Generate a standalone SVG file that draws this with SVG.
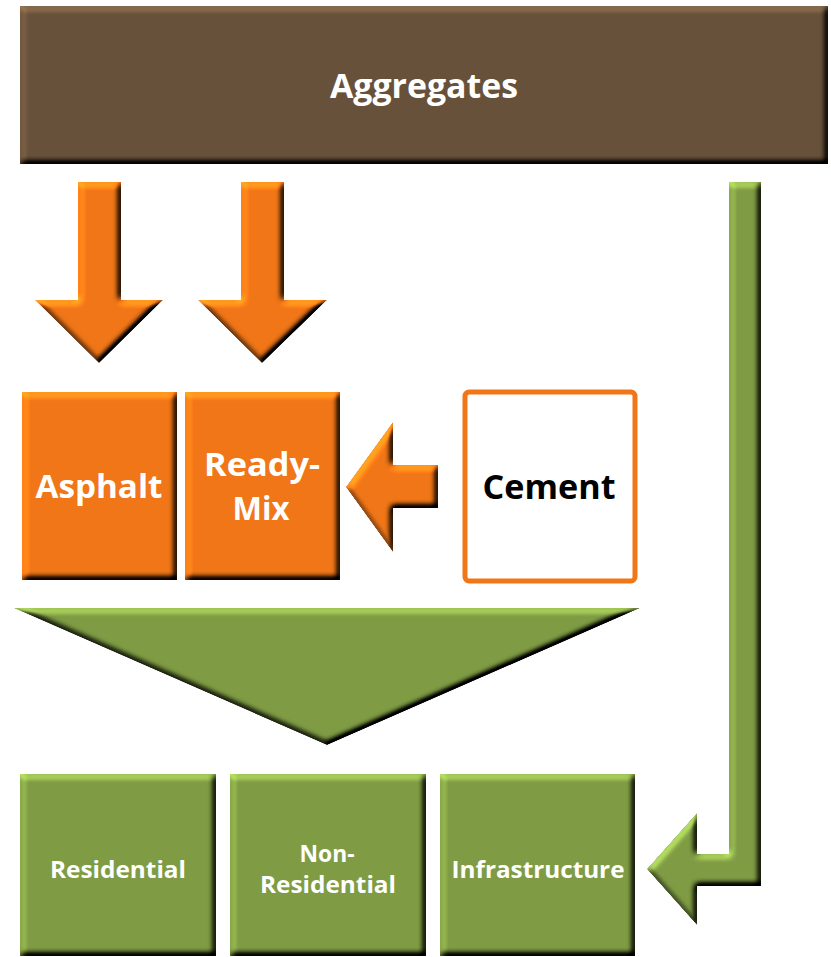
<svg xmlns="http://www.w3.org/2000/svg" width="831" height="957" viewBox="0 0 831 957">
  <defs>
    <!-- soft chamfer: lit from the upper left, shaded on the lower right -->
    <filter id="bevel" x="-5%" y="-5%" width="110%" height="110%" color-interpolation-filters="sRGB">
      <feGaussianBlur in="SourceAlpha" stdDeviation="3" result="blur"/>
      <feDiffuseLighting in="blur" surfaceScale="5" diffuseConstant="1" lighting-color="#ffffff" result="light">
        <feDistantLight azimuth="235" elevation="45"/>
      </feDiffuseLighting>
      <feComposite in="SourceGraphic" in2="light" operator="arithmetic" k1="1.414" k2="0" k3="0" k4="0" result="lit"/>
      <feComposite in="lit" in2="SourceAlpha" operator="in"/>
    </filter>
    <style>
      .brown { fill: #68513A; }
      .orange { fill: #F07617; }
      .green { fill: #7F9C44; }
      .lbl { font-family: "Open Sans", "Liberation Sans", sans-serif; font-weight: 700; text-anchor: middle; }
      .white { fill: #ffffff; }
    </style>
  </defs>

  <!-- source -->
  <g id="aggregates">
    <rect class="brown" x="20" y="6" width="808" height="158" filter="url(#bevel)"/>
    <text class="lbl white" x="424" y="98" font-size="34" textLength="188" lengthAdjust="spacingAndGlyphs">Aggregates</text>
  </g>

  <!-- products -->
  <g id="asphalt">
    <rect class="orange" x="22" y="392" width="155" height="188" filter="url(#bevel)"/>
    <text class="lbl white" x="99" y="498" font-size="32" textLength="127" lengthAdjust="spacingAndGlyphs">Asphalt</text>
  </g>
  <g id="ready-mix">
    <rect class="orange" x="185" y="392" width="155" height="188" filter="url(#bevel)"/>
    <text class="lbl white" x="262" y="476" font-size="32" textLength="116" lengthAdjust="spacingAndGlyphs">Ready-</text>
    <text class="lbl white" x="261" y="520" font-size="32" textLength="57" lengthAdjust="spacingAndGlyphs">Mix</text>
  </g>
  <g id="cement">
    <rect x="465" y="392" width="170" height="189" rx="4" fill="#ffffff" stroke="#F07617" stroke-width="5"/>
    <text class="lbl" x="549" y="499" font-size="34" fill="#000000" textLength="133" lengthAdjust="spacingAndGlyphs">Cement</text>
  </g>

  <!-- end markets -->
  <g id="residential">
    <rect class="green" x="20" y="774" width="196" height="182" filter="url(#bevel)"/>
    <text class="lbl white" x="118" y="878" font-size="24" textLength="136" lengthAdjust="spacingAndGlyphs">Residential</text>
  </g>
  <g id="non-residential">
    <rect class="green" x="230" y="774" width="196" height="182" filter="url(#bevel)"/>
    <text class="lbl white" x="327" y="862" font-size="24" textLength="55" lengthAdjust="spacingAndGlyphs">Non-</text>
    <text class="lbl white" x="328" y="893" font-size="24" textLength="136" lengthAdjust="spacingAndGlyphs">Residential</text>
  </g>
  <g id="infrastructure">
    <rect class="green" x="440" y="774" width="195" height="182" filter="url(#bevel)"/>
    <text class="lbl white" x="538" y="878" font-size="24" textLength="173" lengthAdjust="spacingAndGlyphs">Infrastructure</text>
  </g>

  <!-- flows -->
  <g id="connectors" filter="url(#bevel)">
    <polygon class="orange" points="78,182 121,182 121,300 163,300 99,363 35,300 78,300"/>
    <polygon class="orange" points="241,182 284,182 284,300 327,300 262,363 198,300 241,300"/>
    <polygon class="orange" points="438,465 438,508 393,508 393,552 346,487 393,422 393,465"/>
    <polygon class="green" points="14,608 640,608 327,745"/>
    <polygon class="green" points="729,182 761,182 761,886 697,886 697,925 647,869 697,813 697,854 729,854"/>
  </g>
</svg>
